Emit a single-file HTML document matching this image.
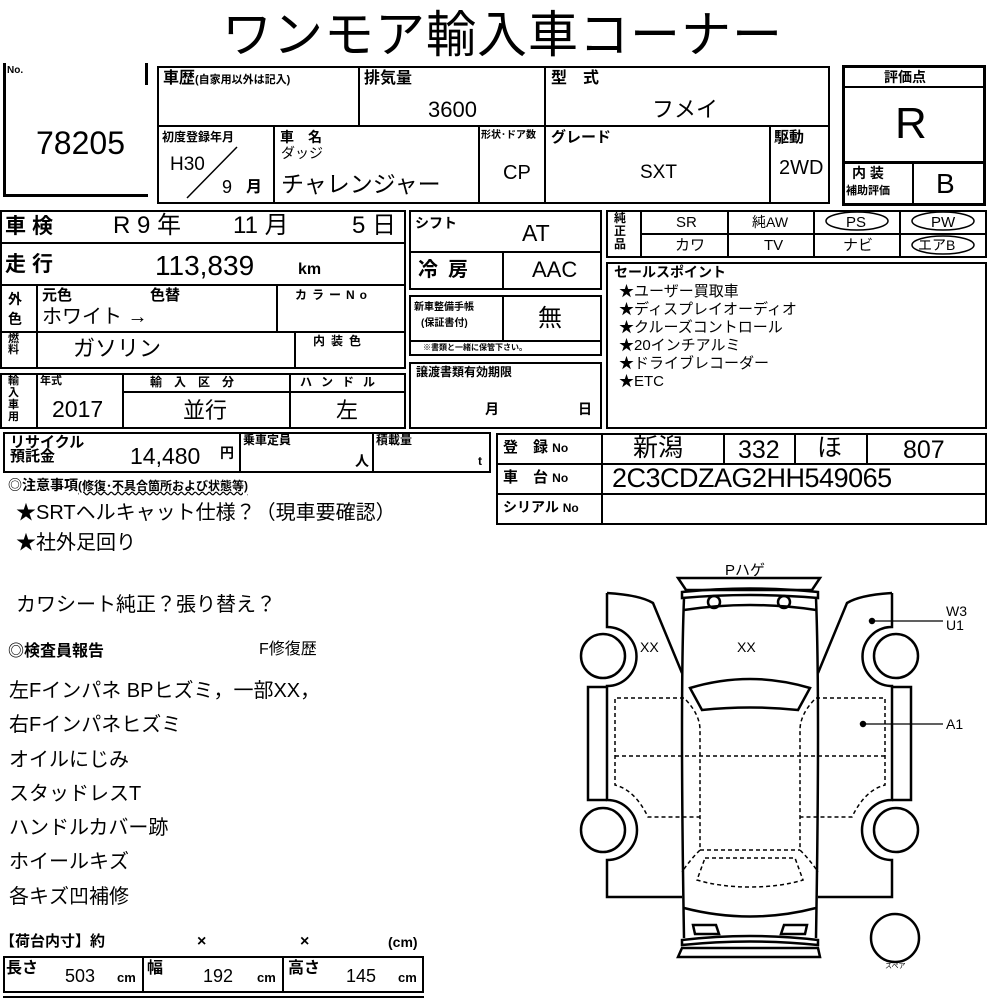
<!DOCTYPE html>
<html><head><meta charset="utf-8"><style>
body{margin:0;width:1000px;height:1000px;background:#fff;position:relative;overflow:hidden;font-family:"Liberation Sans","Noto Sans CJK JP",sans-serif;color:#000}
.b{position:absolute;border:2px solid #000;box-sizing:border-box}
.l{position:absolute;background:#000}
.t{position:absolute;white-space:nowrap;line-height:1}
.k{font-weight:bold}
</style></head><body>
<div class="t" style="left:222px;top:10px;font-size:50px;letter-spacing:1px">ワンモア輸入車コーナー</div>

<div class="l" style="left:3px;top:63px;width:3px;height:133px"></div>
<div class="l" style="left:3px;top:194px;width:145px;height:3px"></div>
<div class="l" style="left:145px;top:63px;width:3px;height:22px"></div>
<div class="t k" style="left:7px;top:66px;font-size:10px">No.</div>
<div class="t" style="left:36px;top:127px;font-size:32px">78205</div>

<div class="b" style="left:157px;top:66px;width:673px;height:138px"></div>
<div class="l" style="left:157px;top:125px;width:673px;height:2px"></div>
<div class="l" style="left:358px;top:66px;width:2px;height:60px"></div>
<div class="l" style="left:544px;top:66px;width:2px;height:138px"></div>
<div class="l" style="left:273px;top:125px;width:2px;height:79px"></div>
<div class="l" style="left:478px;top:125px;width:2px;height:79px"></div>
<div class="l" style="left:769px;top:125px;width:2px;height:79px"></div>
<div class="t k" style="left:163px;top:71px;font-size:16px">車歴<span style="font-size:11px">(自家用以外は記入)</span></div>
<div class="t k" style="left:364px;top:71px;font-size:16px">排気量</div>
<div class="t" style="left:428px;top:99px;font-size:22px">3600</div>
<div class="t k" style="left:551px;top:71px;font-size:16px">型　式</div>
<div class="t" style="left:652px;top:99px;font-size:22px">フメイ</div>
<div class="t k" style="left:162px;top:131px;font-size:12px">初度登録年月</div>
<div class="t" style="left:170px;top:155px;font-size:19px">H30</div>
<svg style="position:absolute;left:185px;top:145px" width="60" height="55"><line x1="52" y1="2" x2="2" y2="53" stroke="#000" stroke-width="1.5"/></svg>
<div class="t" style="left:222px;top:178px;font-size:18px">9</div>
<div class="t k" style="left:246px;top:180px;font-size:16px">月</div>
<div class="t k" style="left:280px;top:130px;font-size:14px">車　名</div>
<div class="t" style="left:281px;top:146px;font-size:14px">ダッジ</div>
<div class="t" style="left:281px;top:173px;font-size:23px">チャレンジャー</div>
<div class="t k" style="left:481px;top:131px;font-size:10px">形状･ドア数</div>
<div class="t" style="left:503px;top:163px;font-size:20px">CP</div>
<div class="t k" style="left:551px;top:130px;font-size:15px">グレード</div>
<div class="t" style="left:640px;top:163px;font-size:19px">SXT</div>
<div class="t k" style="left:774px;top:130px;font-size:15px">駆動</div>
<div class="t" style="left:779px;top:158px;font-size:20px">2WD</div>

<div class="b" style="left:842px;top:65px;width:144px;height:141px;border-width:3px"></div>
<div class="l" style="left:842px;top:86px;width:144px;height:2px"></div>
<div class="l" style="left:842px;top:161px;width:144px;height:3px"></div>
<div class="l" style="left:912px;top:161px;width:2px;height:45px"></div>
<div class="t k" style="left:884px;top:70px;font-size:14px">評価点</div>
<div class="t" style="left:895px;top:102px;font-size:44px">R</div>
<div class="t k" style="left:852px;top:166px;font-size:14px">内 装</div>
<div class="t k" style="left:846px;top:186px;font-size:11px">補助評価</div>
<div class="t" style="left:936px;top:170px;font-size:28px">B</div>

<div class="b" style="left:0;top:210px;width:406px;height:159px"></div>
<div class="l" style="left:0;top:242px;width:406px;height:2px"></div>
<div class="l" style="left:0;top:284px;width:406px;height:2px"></div>
<div class="l" style="left:0;top:331px;width:406px;height:2px"></div>
<div class="l" style="left:36px;top:284px;width:2px;height:85px"></div>
<div class="l" style="left:276px;top:284px;width:2px;height:48px"></div>
<div class="l" style="left:294px;top:331px;width:2px;height:38px"></div>
<div class="t k" style="left:5px;top:216px;font-size:21px;letter-spacing:6px">車検</div>
<div class="t" style="left:113px;top:214px;font-size:24px;word-spacing:0">R 9 年</div>
<div class="t" style="left:233px;top:214px;font-size:24px">11 月</div>
<div class="t" style="left:352px;top:214px;font-size:24px">5 日</div>
<div class="t k" style="left:5px;top:254px;font-size:21px;letter-spacing:6px">走行</div>
<div class="t" style="left:155px;top:252px;font-size:28px">113,839</div>
<div class="t k" style="left:298px;top:262px;font-size:16px">km</div>
<div class="t k" style="left:8px;top:289px;font-size:14px;line-height:20px;width:16px;white-space:normal">外色</div>
<div class="t k" style="left:42px;top:288px;font-size:15px">元色</div>
<div class="t k" style="left:150px;top:288px;font-size:15px">色替</div>
<div class="t" style="left:42px;top:307px;font-size:20px">ホワイト →</div>
<div class="t k" style="left:295px;top:289px;font-size:12px;letter-spacing:5px">カラーNo</div>
<div class="t k" style="left:8px;top:334px;font-size:11px;line-height:11px;width:14px;white-space:normal">燃料</div>
<div class="t" style="left:73px;top:338px;font-size:22px">ガソリン</div>
<div class="t k" style="left:313px;top:335px;font-size:12px;letter-spacing:6px">内装色</div>

<div class="b" style="left:0;top:373px;width:406px;height:56px"></div>
<div class="l" style="left:36px;top:373px;width:2px;height:56px"></div>
<div class="l" style="left:122px;top:373px;width:2px;height:56px"></div>
<div class="l" style="left:289px;top:373px;width:2px;height:56px"></div>
<div class="l" style="left:122px;top:391px;width:284px;height:2px"></div>
<div class="t k" style="left:8px;top:375px;font-size:11px;line-height:12px;width:14px;white-space:normal">輸入車用</div>
<div class="t k" style="left:40px;top:376px;font-size:11px">年式</div>
<div class="t" style="left:52px;top:398px;font-size:23px">2017</div>
<div class="t k" style="left:150px;top:376px;font-size:12px;letter-spacing:12px">輸入区分</div>
<div class="t" style="left:183px;top:400px;font-size:22px">並行</div>
<div class="t k" style="left:300px;top:376px;font-size:12px;letter-spacing:9px">ハンドル</div>
<div class="t" style="left:336px;top:400px;font-size:22px">左</div>

<div class="b" style="left:3px;top:432px;width:488px;height:41px"></div>
<div class="l" style="left:239px;top:432px;width:2px;height:41px"></div>
<div class="l" style="left:372px;top:432px;width:2px;height:41px"></div>
<div class="t k" style="left:10px;top:436px;font-size:15px;line-height:14px">リサイクル<br>預託金</div>
<div class="t" style="left:130px;top:445px;font-size:23px">14,480</div>
<div class="t k" style="left:220px;top:446px;font-size:14px">円</div>
<div class="t k" style="left:243px;top:434px;font-size:12px">乗車定員</div>
<div class="t k" style="left:355px;top:454px;font-size:14px">人</div>
<div class="t k" style="left:376px;top:434px;font-size:12px">積載量</div>
<div class="t k" style="left:478px;top:455px;font-size:12px">t</div>

<div class="b" style="left:409px;top:210px;width:193px;height:80px"></div>
<div class="l" style="left:409px;top:251px;width:193px;height:2px"></div>
<div class="l" style="left:502px;top:251px;width:2px;height:39px"></div>
<div class="t k" style="left:415px;top:216px;font-size:14px">シフト</div>
<div class="t" style="left:522px;top:222px;font-size:23px">AT</div>
<div class="t k" style="left:418px;top:260px;font-size:20px;letter-spacing:10px">冷房</div>
<div class="t" style="left:532px;top:259px;font-size:22px">AAC</div>
<div class="b" style="left:409px;top:295px;width:193px;height:61px"></div>
<div class="l" style="left:409px;top:340px;width:193px;height:2px"></div>
<div class="l" style="left:502px;top:295px;width:2px;height:46px"></div>
<div class="t k" style="left:414px;top:303px;font-size:10px">新車整備手帳</div>
<div class="t k" style="left:421px;top:319px;font-size:10px">(保証書付)</div>
<div class="t" style="left:538px;top:307px;font-size:24px">無</div>
<div class="t k" style="left:423px;top:344px;font-size:8px">※書類と一緒に保管下さい。</div>
<div class="b" style="left:409px;top:362px;width:193px;height:67px"></div>
<div class="t k" style="left:416px;top:366px;font-size:12px">譲渡書類有効期限</div>
<div class="t k" style="left:485px;top:402px;font-size:14px">月</div>
<div class="t k" style="left:578px;top:402px;font-size:14px">日</div>

<div class="b" style="left:606px;top:210px;width:381px;height:48px"></div>
<div class="l" style="left:640px;top:233px;width:347px;height:2px"></div>
<div class="l" style="left:640px;top:210px;width:2px;height:48px"></div>
<div class="l" style="left:727px;top:210px;width:2px;height:48px"></div>
<div class="l" style="left:813px;top:210px;width:2px;height:48px"></div>
<div class="l" style="left:899px;top:210px;width:2px;height:48px"></div>
<div class="t k" style="left:614px;top:212px;font-size:12px;line-height:13px;width:14px;white-space:normal">純正品</div>
<div class="t" style="left:676px;top:215px;font-size:15px">SR</div>
<div class="t" style="left:752px;top:215px;font-size:14px">純AW</div>
<div class="t" style="left:675px;top:238px;font-size:15px">カワ</div>
<div class="t" style="left:764px;top:238px;font-size:15px">TV</div>
<div class="t" style="left:843px;top:238px;font-size:15px">ナビ</div>
<div class="t" style="left:846px;top:215px;font-size:15px">PS</div>
<div class="t" style="left:931px;top:215px;font-size:15px">PW</div>
<div class="t" style="left:918px;top:238px;font-size:14px">エアB</div>
<svg style="position:absolute;left:800px;top:208px" width="200" height="52"><ellipse cx="57" cy="13" rx="31" ry="9" fill="none" stroke="#000" stroke-width="1.5"/><ellipse cx="143" cy="13" rx="31" ry="9" fill="none" stroke="#000" stroke-width="1.5"/><ellipse cx="143" cy="37" rx="31" ry="9" fill="none" stroke="#000" stroke-width="1.5"/></svg>

<div class="b" style="left:606px;top:262px;width:381px;height:167px"></div>
<div class="t k" style="left:614px;top:265px;font-size:14px">セールスポイント</div>
<div class="t" style="left:619px;top:283px;font-size:15px;line-height:18px">★ユーザー買取車<br>★ディスプレイオーディオ<br>★クルーズコントロール<br>★20インチアルミ<br>★ドライブレコーダー<br>★ETC</div>

<div class="b" style="left:496px;top:433px;width:491px;height:92px"></div>
<div class="l" style="left:496px;top:463px;width:491px;height:2px"></div>
<div class="l" style="left:496px;top:493px;width:491px;height:2px"></div>
<div class="l" style="left:601px;top:433px;width:2px;height:92px"></div>
<div class="l" style="left:723px;top:433px;width:2px;height:31px"></div>
<div class="l" style="left:794px;top:433px;width:2px;height:31px"></div>
<div class="l" style="left:866px;top:433px;width:2px;height:31px"></div>
<div class="t k" style="left:503px;top:440px;font-size:15px">登　録 <span style="font-size:12px">No</span></div>
<div class="t k" style="left:503px;top:470px;font-size:15px">車　台 <span style="font-size:12px">No</span></div>
<div class="t k" style="left:503px;top:500px;font-size:14px">シリアル <span style="font-size:12px">No</span></div>
<div class="t" style="left:633px;top:436px;font-size:25px">新潟</div>
<div class="t" style="left:738px;top:438px;font-size:25px">332</div>
<div class="t" style="left:817px;top:436px;font-size:25px">ほ</div>
<div class="t" style="left:903px;top:438px;font-size:25px">807</div>
<div class="t" style="left:612px;top:465px;font-size:27px;letter-spacing:-0.5px">2C3CDZAG2HH549065</div>

<div class="t k" style="left:8px;top:478px;font-size:14px">◎注意事項<span style="font-size:12px;text-decoration:underline wavy">(修復･不具合箇所および状態等)</span></div>
<div class="t" style="left:16px;top:503px;font-size:20px">★SRTヘルキャット仕様？（現車要確認）</div>
<div class="t" style="left:16px;top:533px;font-size:20px">★社外足回り</div>
<div class="t" style="left:16px;top:595px;font-size:20px">カワシート純正？張り替え？</div>
<div class="t k" style="left:8px;top:644px;font-size:16px">◎検査員報告</div>
<div class="t" style="left:259px;top:642px;font-size:16px">F修復歴</div>
<div class="t" style="left:9px;top:674px;font-size:20px;line-height:34.3px">左Fインパネ BPヒズミ，一部XX，<br>右Fインパネヒズミ<br>オイルにじみ<br>スタッドレスT<br>ハンドルカバー跡<br>ホイールキズ<br>各キズ凹補修</div>
<div class="t k" style="left:0;top:934px;font-size:15px">【荷台内寸】約</div>
<div class="t k" style="left:197px;top:934px;font-size:16px">×</div>
<div class="t k" style="left:300px;top:934px;font-size:16px">×</div>
<div class="t k" style="left:388px;top:935px;font-size:14px">(cm)</div>
<div class="b" style="left:3px;top:956px;width:421px;height:37px"></div>
<div class="l" style="left:142px;top:956px;width:2px;height:37px"></div>
<div class="l" style="left:282px;top:956px;width:2px;height:37px"></div>
<div class="t k" style="left:6px;top:961px;font-size:16px">長さ</div>
<div class="t" style="left:65px;top:967px;font-size:18px">503</div>
<div class="t k" style="left:117px;top:971px;font-size:13px">cm</div>
<div class="t k" style="left:147px;top:961px;font-size:16px">幅</div>
<div class="t" style="left:203px;top:967px;font-size:18px">192</div>
<div class="t k" style="left:257px;top:971px;font-size:13px">cm</div>
<div class="t k" style="left:288px;top:961px;font-size:16px">高さ</div>
<div class="t" style="left:346px;top:967px;font-size:18px">145</div>
<div class="t k" style="left:398px;top:971px;font-size:13px">cm</div>
<div class="l" style="left:3px;top:996px;width:421px;height:2px"></div>

<svg style="position:absolute;left:0;top:0" width="1000" height="1000" fill="none" stroke="#000" stroke-width="2.5">
<path d="M678 578 L820 578 L812 590 L686 590 Z"/>
<path d="M682 592 Q750 585 818 592 L818 598 Q750 592 682 598 Z"/>
<circle cx="714" cy="602" r="6"/><circle cx="784" cy="602" r="6"/>
<path d="M684 610 Q750 600 816 610"/>
<path d="M684 598 Q680 700 684 938 M816 598 Q820 700 816 938"/>
<path d="M690 688 Q750 670 810 688 L798 710 Q750 705 702 710 Z"/>
<path d="M684 908 Q750 925 816 908"/>
<path d="M682 940 Q750 932 818 940 L818 945 Q750 938 682 945 Z"/>
<path d="M682 948 L818 948 L820 957 L678 957 Z"/>
<path d="M693 925 L716 925 L719 934 L695 934 Z M784 925 L807 925 L805 934 L781 934 Z"/>
<path d="M607 593 Q640 595 653 603 L682 673"/>
<path d="M607 593 L607 627 A28 28 0 0 1 607 686 L607 800 A29 29 0 0 1 607 860 L607 897 L682 897"/>
<circle cx="603" cy="656" r="22"/><circle cx="603" cy="830" r="22"/>
<path d="M607 687 L588 687 L588 800 L607 800"/>
<path d="M892 593 Q860 595 847 603 L818 673"/>
<path d="M892 593 L892 627 A28 28 0 0 0 892 686 L892 800 A29 29 0 0 0 892 860 L892 897 L818 897"/>
<circle cx="896" cy="656" r="22"/><circle cx="896" cy="830" r="22"/>
<path d="M892 687 L911 687 L911 800 L892 800"/>
<circle cx="895" cy="938" r="24"/>
<g stroke-width="1.5" stroke-dasharray="4 3">
<path d="M684 698 L615 698 L615 785 Q635 790 648 817 L700 817"/>
<path d="M816 698 L885 698 L885 785 Q865 790 852 817 L800 817"/>
<path d="M615 756 L885 756"/>
<path d="M686 700 Q700 715 700 730 L700 850 Q690 860 682 872 M814 700 Q800 715 800 730 L800 850 Q810 860 818 872"/>
<path d="M700 850 L800 850 M705 858 L795 858 L803 880 Q780 887 750 887 Q720 887 697 880 Z"/>
</g>
<g stroke-width="1.2"><line x1="872" y1="621" x2="943" y2="621"/><line x1="863" y1="724" x2="943" y2="724"/></g>
<circle cx="872" cy="621" r="2" fill="#000"/><circle cx="863" cy="724" r="2" fill="#000"/>
</svg>
<div class="t" style="left:725px;top:563px;font-size:15px">Pハゲ</div>
<div class="t" style="left:640px;top:640px;font-size:14px">XX</div>
<div class="t" style="left:737px;top:640px;font-size:14px">XX</div>
<div class="t" style="left:946px;top:604px;font-size:14px;line-height:14px">W3<br>U1</div>
<div class="t" style="left:946px;top:717px;font-size:14px">A1</div>
<div class="t" style="left:885px;top:963px;font-size:7px">スペア</div>
</body></html>
